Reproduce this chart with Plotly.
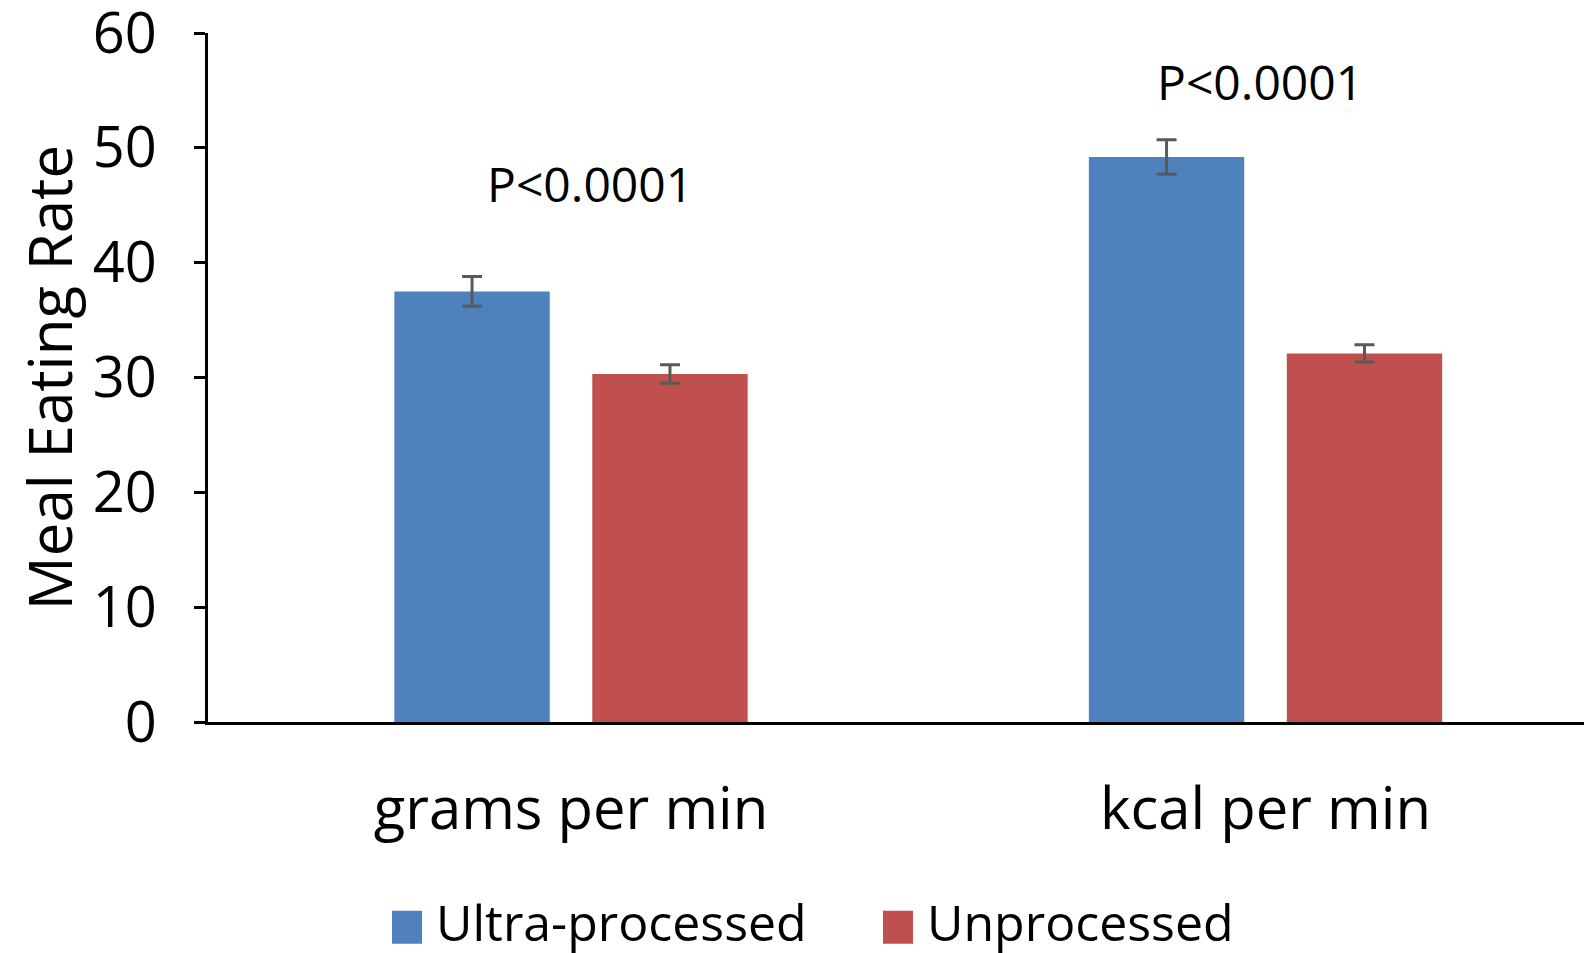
import plotly.graph_objects as go

categories = ["grams per min", "kcal per min"]
series_names = ["Ultra-processed", "Unprocessed"]
ultra_values = [37.5, 49.2]
ultra_errors = [1.3, 1.5]
unproc_values = [30.3, 32.1]
unproc_errors = [0.8, 0.75]
p_labels = ["P<0.0001", "P<0.0001"]
p_label_y = [46.9, 55.8]
y_ticks = [0, 10, 20, 30, 40, 50, 60]

colors = ["#4F81BD", "#C0504D"]
FONT = "Open Sans"

# page body has an 8px margin; figure coordinates are compensated
OFF = 8
W, H = 1592, 953
L, T, B = 200, 24.5, 239
PW = W - L
PH = H - T - B


def px(xv):
    return (xv - OFF - L) / PW


def py(yv):
    return ((H - B) - (yv - OFF)) / PH


fig = go.Figure()
for name, vals, errs, col in [
    (series_names[0], ultra_values, ultra_errors, colors[0]),
    (series_names[1], unproc_values, unproc_errors, colors[1]),
]:
    fig.add_trace(go.Bar(
        x=categories, y=vals, name=name,
        marker=dict(color=col, line=dict(width=0)),
        error_y=dict(type="data", array=errs, visible=True,
                     color="#595959", thickness=3, width=10),
        showlegend=False,
    ))

# P-value annotations
for cat, txt, yy, xs in zip(categories, p_labels, p_label_y, [19, -6]):
    fig.add_annotation(x=cat, y=yy, text=txt, showarrow=False, xshift=xs,
                       font=dict(family=FONT, size=48, color="black"))

# Manual legend (squares + text)
legend_items = [
    (series_names[0], colors[0], 392),
    (series_names[1], colors[1], 883),
]
for name, col, x0 in legend_items:
    fig.add_shape(type="rect", xref="paper", yref="paper",
                  x0=px(x0), x1=px(x0 + 30), y0=py(911), y1=py(944),
                  fillcolor=col, line=dict(width=0))
    fig.add_annotation(xref="paper", yref="paper",
                       x=px(x0 + 42), y=py(922),
                       xanchor="left", yanchor="middle", showarrow=False,
                       text=name, font=dict(family=FONT, size=50, color="black"))

fig.update_layout(
    width=W, height=H,
    margin=dict(l=L, r=0, t=T, b=B, autoexpand=False),
    paper_bgcolor="white", plot_bgcolor="white",
    barmode="group", bargap=0.43, bargroupgap=0.215,
    font=dict(family=FONT, color="black"),
    showlegend=False,
)
span = PW / 694.5
fig.update_xaxes(
    range=[-0.5227, -0.5227 + span], showline=True, linecolor="black", linewidth=3,
    ticks="", tickfont=dict(family=FONT, size=58, color="black"),
    ticklabelstandoff=34, showgrid=False, zeroline=False,
)
fig.update_yaxes(
    range=[0, 60], tickvals=y_ticks, showline=True, linecolor="black", linewidth=3,
    ticks="outside", ticklen=11, tickwidth=3, tickcolor="black",
    tickfont=dict(family=FONT, size=56, color="black"), ticklabelstandoff=26,
    ticklabeloverflow="allow",
    showgrid=False, zeroline=False,
    title=dict(text="Meal Eating Rate", font=dict(family=FONT, size=60, color="black"),
               standoff=18),
)

fig.write_html("out.html")
